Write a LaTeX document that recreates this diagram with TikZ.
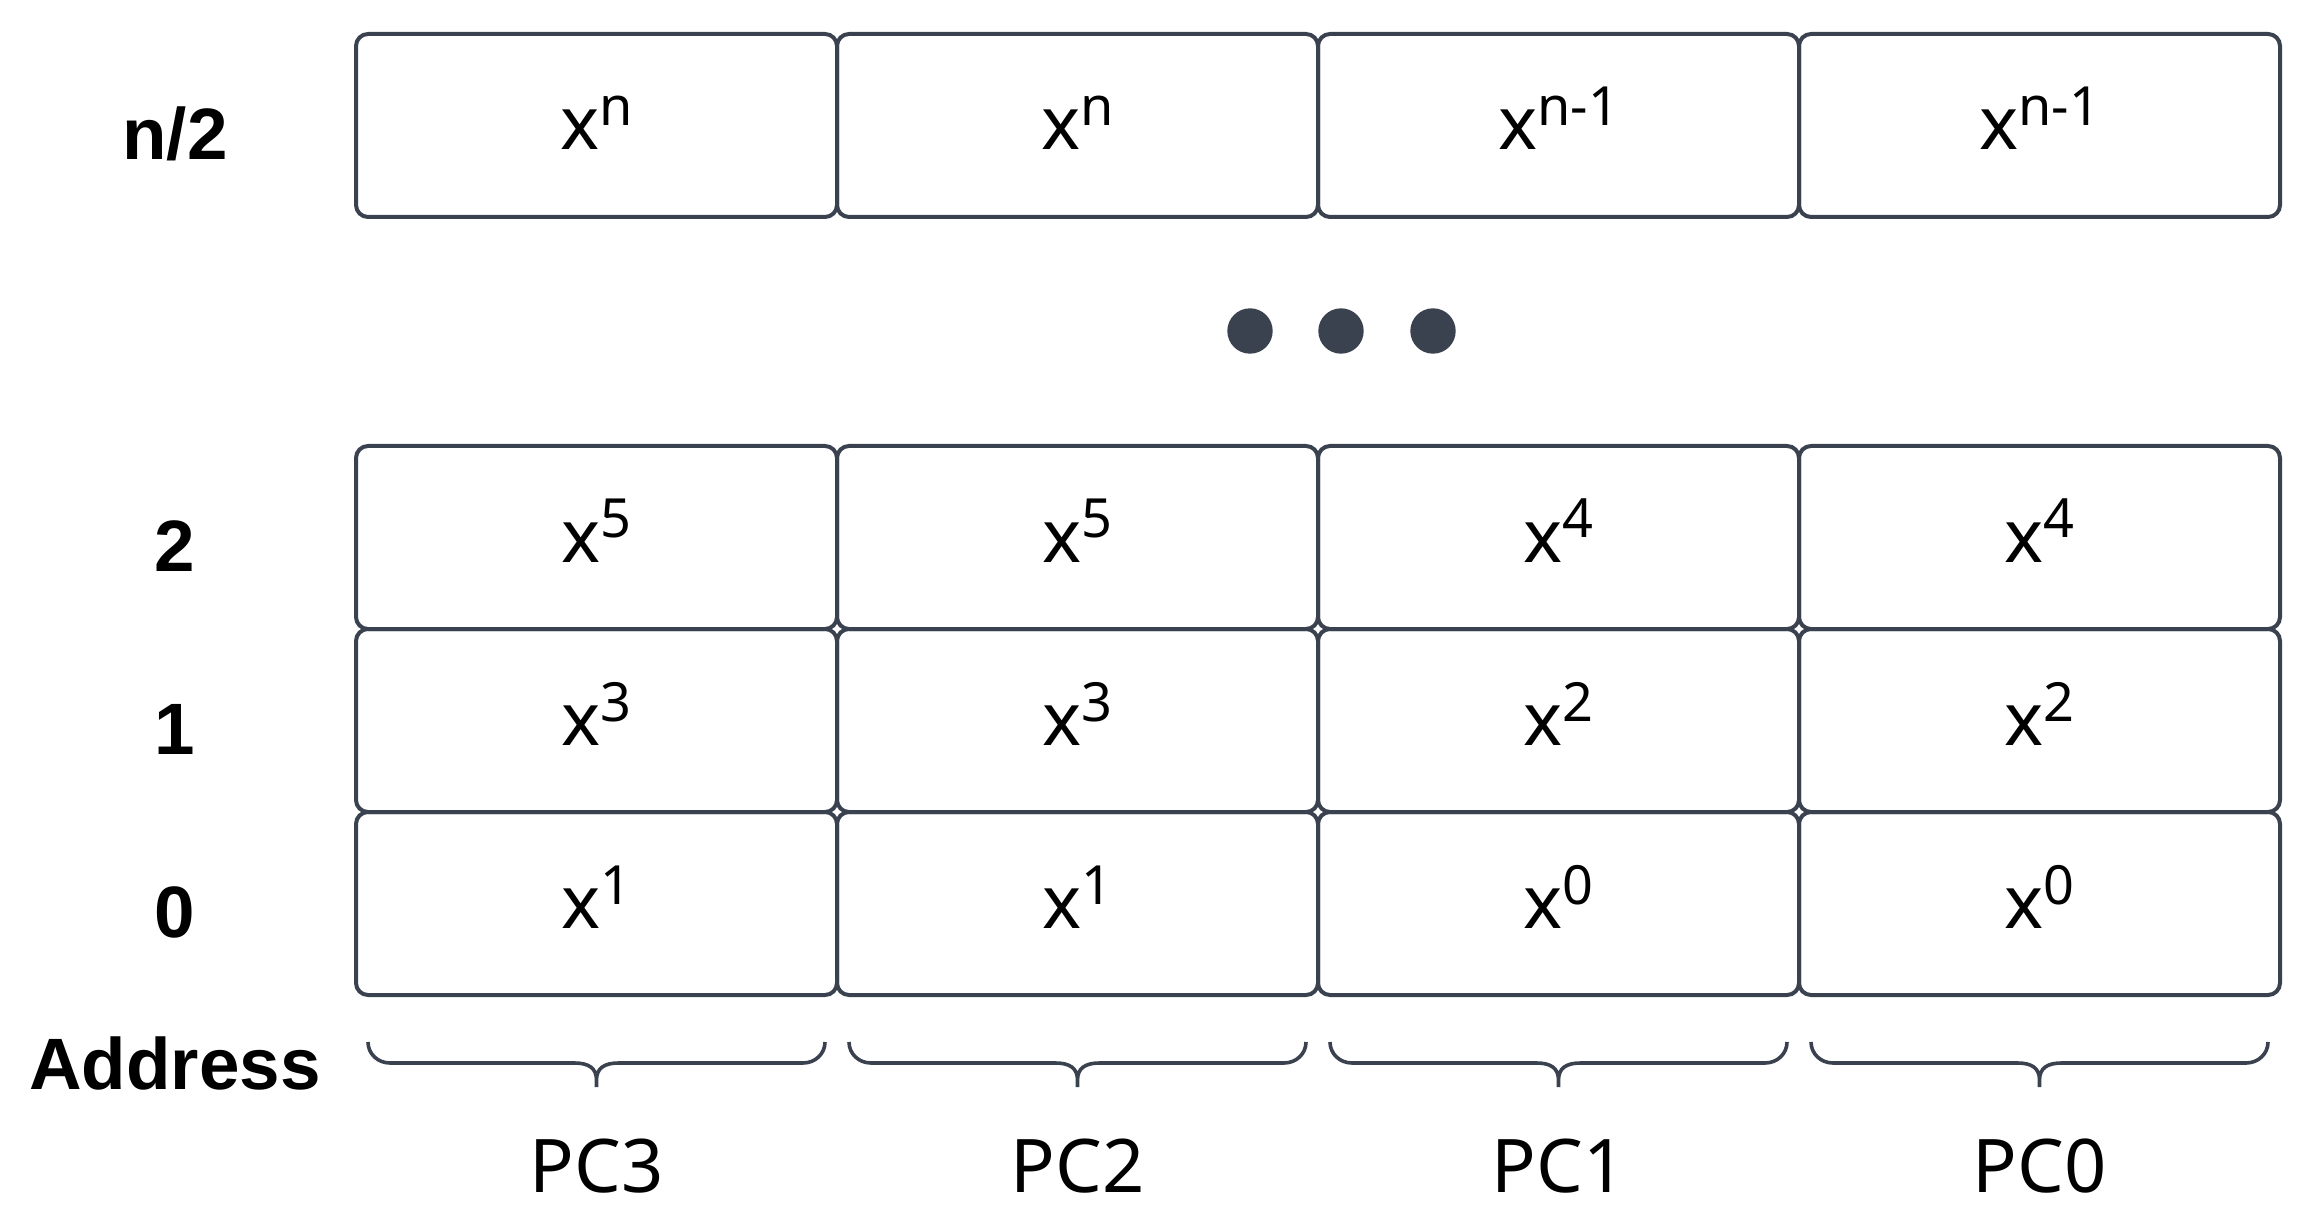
\documentclass[tikz,border=0pt]{standalone}
\usepackage{fontspec}
\setmainfont{Noto Sans}
\newfontfamily\lblfont{Liberation Sans}
\definecolor{ln}{RGB}{59,66,79}
\newcommand\pw[1]{x\raisebox{6pt}{\fontsize{13.5pt}{14pt}\selectfont #1}}
\begin{document}
\begin{tikzpicture}[x=0.25pt,y=-0.25pt,
  cell/.style={draw=ln, line width=1pt, rounded corners=3pt, minimum width=120.25pt,
    minimum height=45.75pt, inner sep=0pt, outer sep=0pt, text height=12.25pt, text depth=0pt,
    font=\fontsize{18.5pt}{20pt}\selectfont},
  rowlab/.style={anchor=base, font=\lblfont\bfseries\fontsize{18.2pt}{20pt}\selectfont},
  pclab/.style={anchor=base, font=\fontsize{18.5pt}{20pt}\selectfont},
  ellipsisdot/.style={fill=ln, circle, minimum size=11.35pt, inner sep=0pt},
  bracestyle/.style={draw=ln, line width=0.9pt}]
\useasboundingbox (0,0) rectangle (2300,1218);
% top row (n/2)
\node[cell] (t3) at (596.5,125.5) {\pw{n}};
\node[cell] (t2) at (1077.5,125.5) {\pw{n}};
\node[cell] (t1) at (1558.5,125.5) {\pw{n-1}};
\node[cell] (t0) at (2039.5,125.5) {\pw{n-1}};
% row 2
\node[cell] (a3) at (596.5,537.5) {\pw{5}};
\node[cell] (a2) at (1077.5,537.5) {\pw{5}};
\node[cell] (a1) at (1558.5,537.5) {\pw{4}};
\node[cell] (a0) at (2039.5,537.5) {\pw{4}};
% row 1
\node[cell] (b3) at (596.5,720.5) {\pw{3}};
\node[cell] (b2) at (1077.5,720.5) {\pw{3}};
\node[cell] (b1) at (1558.5,720.5) {\pw{2}};
\node[cell] (b0) at (2039.5,720.5) {\pw{2}};
% row 0
\node[cell] (z3) at (596.5,903.5) {\pw{1}};
\node[cell] (z2) at (1077.5,903.5) {\pw{1}};
\node[cell] (z1) at (1558.5,903.5) {\pw{0}};
\node[cell] (z0) at (2039.5,903.5) {\pw{0}};
% row labels
\node[rowlab] (ln2) at (175,159.5) {n/2};
\node[rowlab] (l2) at (175,571.5) {2};
\node[rowlab] (l1) at (175,754.5) {1};
\node[rowlab] (l0) at (175,937.5) {0};
\node[rowlab] (laddr) at (175,1089) {Address};
% ellipsis dots
\node[ellipsisdot] (d1) at (1250,331) {};
\node[ellipsisdot] (d2) at (1341,331) {};
\node[ellipsisdot] (d3) at (1433,331) {};
% braces and PC labels
\foreach \i/\nm in {0/PC3,1/PC2,2/PC1,3/PC0}{
  \pgfmathsetmacro{\L}{356+481*\i}
  \pgfmathsetmacro{\M}{\L+240.5}
  \pgfmathsetmacro{\R}{\L+481}
  \draw[bracestyle] (\L+12,1042) .. controls (\L+12,1054) and (\L+22,1063) .. (\L+34,1063)
    -- (\M-22,1063) .. controls (\M-8,1063) and (\M,1068) .. (\M,1080) -- (\M,1087)
    -- (\M,1080) .. controls (\M,1068) and (\M+8,1063) .. (\M+22,1063)
    -- (\R-34,1063) .. controls (\R-22,1063) and (\R-12,1054) .. (\R-12,1042);
  \node[pclab] (pc\i) at (\M,1192) {\nm};
}
\end{tikzpicture}
\end{document}
